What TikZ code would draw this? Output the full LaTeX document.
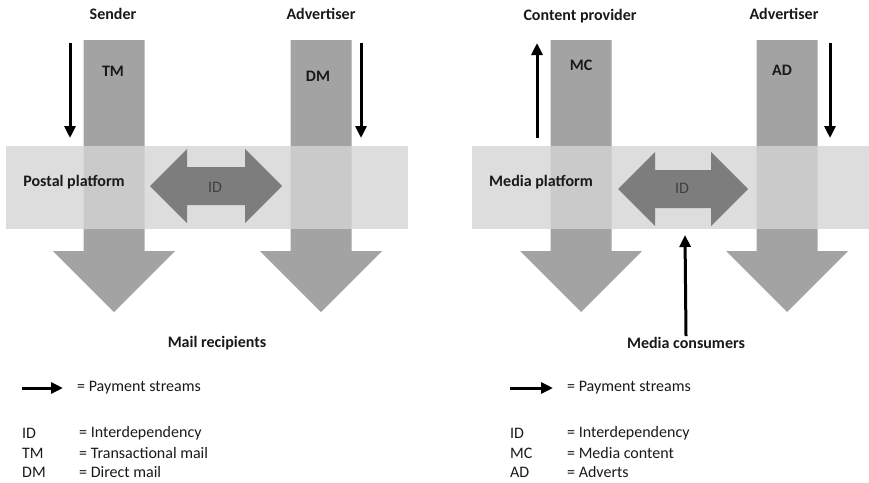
\documentclass[tikz,border=0pt]{standalone}
\usepackage{fontspec}
\setmainfont{Carlito}
\usetikzlibrary{arrows.meta}
\definecolor{flowgray}{gray}{0.64}
\definecolor{bandgray}{gray}{0.83}
\definecolor{idgray}{gray}{0.49}
\definecolor{txt}{gray}{0.1}
% big downward flow: centre x
\newcommand{\bigflow}[1]{%
  \fill[flowgray] ({#1-30.5},40) -- ({#1+30.5},40) -- ({#1+30.5},251) -- ({#1+61},251)
    -- (#1,312) -- ({#1-61},251) -- ({#1-30.5},251) -- cycle;}
% double arrow ID: left tip, right tip, centre y
\newcommand{\iddouble}[3]{%
  \fill[idgray] (#1,#3) -- ({#1+37},{#3-37}) -- ({#1+37},{#3-19}) -- ({#2-37},{#3-19})
    -- ({#2-37},{#3-37}) -- (#2,#3) -- ({#2-37},{#3+37}) -- ({#2-37},{#3+19})
    -- ({#1+37},{#3+19}) -- ({#1+37},{#3+37}) -- cycle;}

\begin{document}
\begin{tikzpicture}[x=1pt,y=-1pt,
  every node/.style={font=\fontsize{16}{18}\selectfont, text=txt},
  head/.style={font=\fontsize{16}{18}\selectfont\bfseries},
  legend/.style={anchor=west, inner sep=0pt},
  pay/.style={line width=3pt, -{Triangle[width=11pt,length=12pt]}},
  band/.style={fill=bandgray, fill opacity=0.8}]
\useasboundingbox (0,0) rectangle (869,482);

% flows
\bigflow{114}
\bigflow{321}
\bigflow{581}
\bigflow{787}

% platforms
\fill[band] (6,146) rectangle (408,229);
\fill[band] (472,146) rectangle (869,229);

% interdependency
\iddouble{150}{282}{186}
\iddouble{618}{748}{189}

\path (113,14) node (sender) [head] {Sender};
\path (321,14) node (adv1) [head] {Advertiser};
\path (580,16) node (provider) [head] {Content provider};
\path (784,14) node (adv2) [head] {Advertiser};

\path (113,71) node (tm) [head] {TM};
\path (318,76) node (dm) [head] {DM};
\path (581,65) node (mc) [head] {MC};
\path (782,70) node (ad) [head] {AD};

\path (74,182) node (postal) [head] {Postal platform};
\path (541,182) node (media) [head] {Media platform};
\path (215,187) node (id1) [text=black!75] {ID};
\path (682,188) node (id2) [text=black!75] {ID};

\path (217,343) node (recip) [head] {Mail recipients};
\path (686,343) node (cons) [head, inner sep=1pt] {Media consumers};

% payment streams
\coordinate (p1a) at (70,43);  \coordinate (p1b) at (70,138);
\coordinate (p2a) at (361,43); \coordinate (p2b) at (361,138);
\coordinate (p3a) at (537,138); \coordinate (p3b) at (537,43);
\coordinate (p4a) at (830,43); \coordinate (p4b) at (830,138);
\coordinate (p5b) at (685,235);
\draw[pay] (p1a) -- (p1b);
\draw[pay] (p2a) -- (p2b);
\draw[pay] (p3a) -- (p3b);
\draw[pay] (p4a) -- (p4b);
\draw[pay] (cons.north) -- (p5b);

% legend left
\coordinate (l1a) at (22,388); \coordinate (l1b) at (63,388);
\draw[pay] (l1a) -- (l1b);
\path (77,388) node (lpay) [legend] {= Payment streams};
\path (22,433) node (lid) [legend] {ID};
\path (79,433) node (lidt) [legend] {= Interdependency};
\path (22,453) node (ltm) [legend] {TM};
\path (79,453) node (ltmt) [legend] {= Transactional mail};
\path (22,472) node (ldm) [legend] {DM};
\path (79,472) node (ldmt) [legend] {= Direct mail};

% legend right
\coordinate (r1a) at (510,388); \coordinate (r1b) at (553,388);
\draw[pay] (r1a) -- (r1b);
\path (567,388) node (rpay) [legend] {= Payment streams};
\path (510,433) node (rid) [legend] {ID};
\path (567,433) node (ridt) [legend] {= Interdependency};
\path (510,453) node (rmc) [legend] {MC};
\path (567,453) node (rmct) [legend] {= Media content};
\path (510,472) node (rad) [legend] {AD};
\path (567,472) node (radt) [legend] {= Adverts};

\end{tikzpicture}
\end{document}
